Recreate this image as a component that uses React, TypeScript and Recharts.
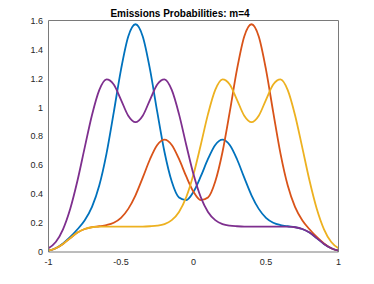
import React from 'react';
import { LineChart, Line, XAxis, YAxis } from 'recharts';

const xValues = [
  -1, -0.95, -0.9, -0.85, -0.8, -0.75, -0.7, -0.65, -0.6, -0.55, -0.5, -0.45, -0.4, -0.35, -0.3, -0.25, -0.2,
  -0.15, -0.1, -0.05, 0, 0.05, 0.1, 0.15, 0.2, 0.25, 0.3, 0.35, 0.4, 0.45, 0.5, 0.55, 0.6, 0.65, 0.7, 0.75,
  0.8, 0.85, 0.9, 0.95, 1,
];

const blueValues = [
  0.009, 0.026, 0.059, 0.104, 0.157, 0.22, 0.312, 0.459, 0.68, 0.965, 1.261, 1.49, 1.574, 1.49, 1.262, 0.968,
  0.691, 0.487, 0.377, 0.359, 0.416, 0.522, 0.643, 0.74, 0.776, 0.739, 0.641, 0.514, 0.392, 0.298, 0.236,
  0.202, 0.186, 0.178, 0.172, 0.159, 0.134, 0.096, 0.056, 0.026, 0.009,
];

const orangeValues = [
  0.009, 0.026, 0.056, 0.096, 0.134, 0.159, 0.172, 0.178, 0.186, 0.202, 0.236, 0.298, 0.392, 0.514, 0.641,
  0.739, 0.776, 0.74, 0.643, 0.522, 0.416, 0.359, 0.377, 0.487, 0.691, 0.968, 1.262, 1.49, 1.574, 1.49, 1.261,
  0.965, 0.68, 0.459, 0.312, 0.22, 0.157, 0.104, 0.059, 0.026, 0.009,
];

const yellowValues = [
  0.009, 0.026, 0.056, 0.096, 0.134, 0.159, 0.171, 0.175, 0.176, 0.176, 0.176, 0.176, 0.176, 0.176, 0.178,
  0.182, 0.193, 0.22, 0.277, 0.379, 0.537, 0.74, 0.953, 1.12, 1.193, 1.158, 1.052, 0.942, 0.897, 0.942, 1.052,
  1.158, 1.193, 1.119, 0.947, 0.723, 0.494, 0.299, 0.157, 0.069, 0.026,
];

const purpleValues = [
  0.026, 0.069, 0.157, 0.299, 0.494, 0.723, 0.947, 1.119, 1.193, 1.158, 1.052, 0.942, 0.897, 0.942, 1.052,
  1.158, 1.193, 1.12, 0.953, 0.74, 0.537, 0.379, 0.277, 0.22, 0.193, 0.182, 0.178, 0.176, 0.176, 0.176, 0.176,
  0.176, 0.176, 0.175, 0.171, 0.159, 0.134, 0.096, 0.056, 0.026, 0.009,
];

const xTicks = [-1, -0.5, 0, 0.5, 1];
const yTicks = [0, 0.2, 0.4, 0.6, 0.8, 1, 1.2, 1.4, 1.6];
const titleText = 'Emissions Probabilities: m=4';

const data = xValues.map((x, i) => ({
  x,
  s1: blueValues[i],
  s2: orangeValues[i],
  s3: yellowValues[i],
  s4: purpleValues[i],
}));

const FONT = '"Liberation Sans", Arial, Helvetica, sans-serif';
const AXIS = '#7a7a7a';
const TEXT = '#262626';
const tickStyle = { fill: TEXT, fontSize: 9, fontFamily: FONT };

export default function App() {
  return (
    <div style={{ position: 'absolute', left: 0, top: 0, width: 374, height: 284, background: '#fff' }}>
      <div
        style={{
          position: 'absolute',
          left: 0,
          top: 7.5,
          width: 360,
          height: 12,
          lineHeight: '12px',
          textAlign: 'center',
          fontFamily: FONT,
          fontWeight: 'bold',
          fontSize: 10,
          color: '#000',
          whiteSpace: 'nowrap',
        }}
      >
        {titleText}
      </div>
      <LineChart width={374} height={284} data={data} margin={{ top: 20.5, right: 35.5, left: 8.5, bottom: 2 }}>
        <XAxis
          dataKey="x"
          type="number"
          domain={[-1, 1]}
          ticks={xTicks}
          interval={0}
          tickLine={false}
          tickSize={0}
          tickMargin={6.5}
          axisLine={{ stroke: AXIS, strokeWidth: 1 }}
          tick={tickStyle}
          height={30}
        />
        <XAxis
          xAxisId="bm"
          dataKey="x"
          type="number"
          domain={[-1, 1]}
          ticks={xTicks}
          interval={0}
          orientation="bottom"
          mirror
          tick={false}
          tickSize={3}
          tickLine={{ stroke: AXIS }}
          axisLine={false}
          height={10}
        />
        <XAxis
          xAxisId="top"
          dataKey="x"
          type="number"
          domain={[-1, 1]}
          ticks={xTicks}
          interval={0}
          orientation="top"
          mirror
          tick={false}
          tickSize={3}
          tickLine={{ stroke: AXIS }}
          axisLine={{ stroke: AXIS, strokeWidth: 1 }}
          height={10}
        />
        <YAxis
          type="number"
          domain={[0, 1.6]}
          ticks={yTicks}
          interval={0}
          tickLine={false}
          tickSize={0}
          tickMargin={5.5}
          axisLine={{ stroke: AXIS, strokeWidth: 1 }}
          tick={tickStyle}
          width={40}
        />
        <YAxis
          yAxisId="lm"
          type="number"
          domain={[0, 1.6]}
          ticks={yTicks}
          interval={0}
          mirror
          tick={false}
          tickSize={3}
          tickLine={{ stroke: AXIS }}
          axisLine={false}
          width={10}
        />
        <YAxis
          yAxisId="r"
          type="number"
          domain={[0, 1.6]}
          ticks={yTicks}
          interval={0}
          orientation="right"
          mirror
          tick={false}
          tickSize={3}
          tickLine={{ stroke: AXIS }}
          axisLine={{ stroke: AXIS, strokeWidth: 1 }}
          width={10}
        />
        <Line type="monotone" dataKey="s1" stroke="#0072BD" strokeWidth={1.8} dot={false} activeDot={false} isAnimationActive={false} />
        <Line type="monotone" dataKey="s2" stroke="#D95319" strokeWidth={1.8} dot={false} activeDot={false} isAnimationActive={false} />
        <Line type="monotone" dataKey="s3" stroke="#EDB120" strokeWidth={1.8} dot={false} activeDot={false} isAnimationActive={false} />
        <Line type="monotone" dataKey="s4" stroke="#7E2F8E" strokeWidth={1.8} dot={false} activeDot={false} isAnimationActive={false} />
      </LineChart>
    </div>
  );
}
